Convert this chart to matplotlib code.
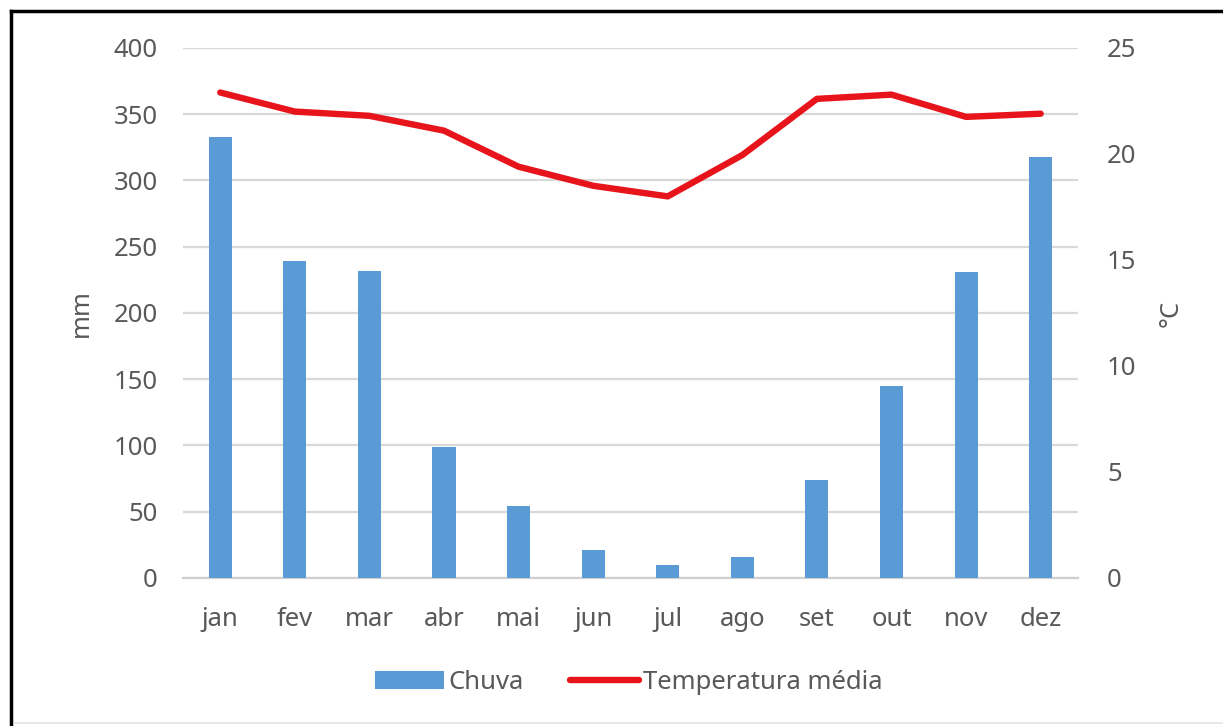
import matplotlib.pyplot as plt
import numpy as np
from matplotlib.lines import Line2D

meses = ["jan", "fev", "mar", "abr", "mai", "jun", "jul", "ago", "set", "out", "nov", "dez"]
chuva = [333, 239, 232, 99, 54, 21, 10, 16, 74, 145, 231, 318]
temperatura = [22.9, 22.0, 21.8, 21.1, 19.4, 18.5, 18.0, 19.95, 22.6, 22.8, 21.75, 21.9]

plt.rcParams['font.family'] = ['Noto Sans', 'DejaVu Sans']
cinza = "#595959"
fs = 18.5

fig = plt.figure(figsize=(12.23, 7.26), dpi=100)
ax = fig.add_axes([0.1496, 0.2039, 0.7318, 0.7300])
ax2 = ax.twinx()

x = np.arange(len(meses))
barras = ax.bar(x, chuva, width=0.31, color="#5B9BD5", zorder=3, label="Chuva")
linha, = ax2.plot(x, temperatura, color="#E8141C", lw=4.6, solid_capstyle="round",
                  solid_joinstyle="round", zorder=4, label="Temperatura média")

ax.set_xlim(-0.5, len(meses) - 0.5)
ax.set_ylim(0, 400)
ax.set_yticks(np.arange(0, 401, 50))
ax2.set_ylim(0, 25)
ax2.set_yticks(np.arange(0, 26, 5))

ax.grid(axis="y", color="#D9D9D9", lw=1.6, zorder=0)
ax.set_axisbelow(True)
ax.set_xticks(x)
ax.set_xticklabels(meses)

for a in (ax, ax2):
    for s in a.spines.values():
        s.set_visible(False)
    a.tick_params(length=0, labelsize=fs, labelcolor=cinza)
ax.spines["bottom"].set_visible(True)
ax.spines["bottom"].set_color("#D0D0D0")
ax.spines["bottom"].set_linewidth(1.6)
ax.tick_params(axis="y", pad=18)
ax.tick_params(axis="x", pad=21)
ax2.tick_params(axis="y", pad=21)

ax.set_ylabel("mm", fontsize=fs, color=cinza, labelpad=14)
ax2.set_ylabel("°C", fontsize=fs, color=cinza, rotation=90, labelpad=16)

fig.legend(handles=[barras, linha], loc="center", bbox_to_anchor=(0.514, 0.0606),
           ncol=2, frameon=False, fontsize=fs, labelcolor=cinza,
           handlelength=2.7, handletextpad=0.15, columnspacing=1.8)

# moldura
fig.add_artist(Line2D([0.009, 1.0], [0.985, 0.985], color="black", lw=2.5))
fig.add_artist(Line2D([0.009, 0.009], [0.0, 0.985], color="black", lw=2.5))
fig.add_artist(Line2D([0.012, 1.0], [0.004, 0.004], color="#E4E4E4", lw=1.2))

fig.savefig("out.png", dpi=100)
